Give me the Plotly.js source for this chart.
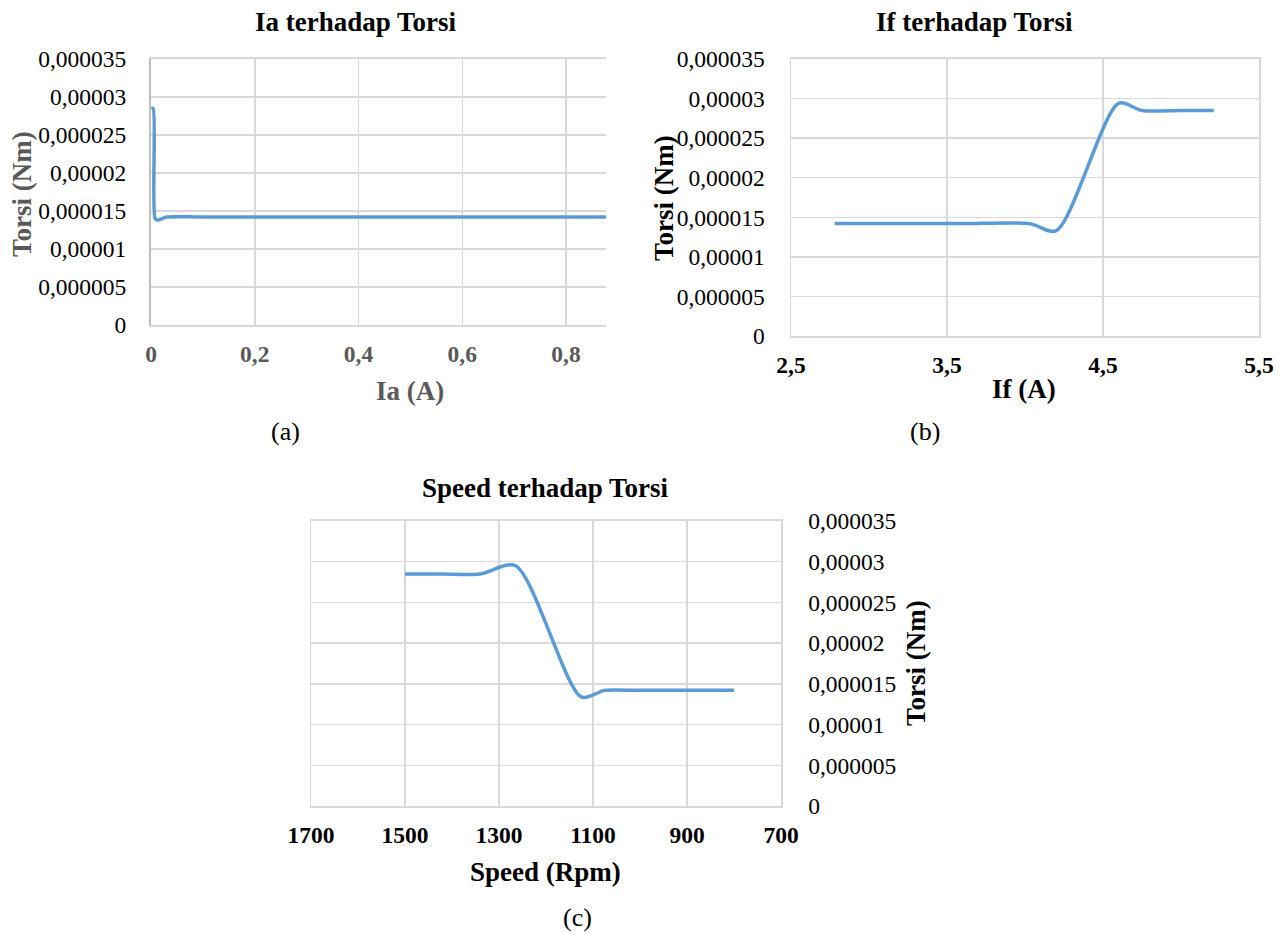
<!DOCTYPE html>
<html><head><meta charset="utf-8">
<script src="https://cdn.plot.ly/plotly-3.0.1.min.js"></script>
<style>html,body{margin:0;padding:0;background:#fff}</style>
</head><body><div id="chart" style="width:1284px;height:934px"></div>
<script>
// Data
const iaCurrent = [0.0005, 0.004, 0.008, 0.013, 0.03, 0.1, 0.3, 0.6, 0.9, 1.2];
const iaTorque  = [0.0000285, 0.0000285, 0.0000140, 0.0000138, 0.0000142, 0.0000142, 0.0000142, 0.0000142, 0.0000142, 0.0000142];

const ifCurrent = [2.78, 3.2, 3.6, 4.03, 4.2, 4.6, 4.75, 5.0, 5.21];
const ifTorque  = [0.0000142, 0.0000142, 0.0000142, 0.0000142, 0.0000133, 0.0000294, 0.0000285, 0.0000285, 0.0000285];

const speedRpm    = [1500, 1420, 1340, 1265, 1125, 1075, 1000, 900, 800];
const speedTorque = [0.0000285, 0.0000285, 0.0000285, 0.0000295, 0.0000134, 0.0000142, 0.0000142, 0.0000142, 0.0000142];

const yTickVals = [0, 0.000005, 0.00001, 0.000015, 0.00002, 0.000025, 0.00003, 0.000035];
const yTickText = ["0", "0,000005", "0,00001", "0,000015", "0,00002", "0,000025", "0,00003", "0,000035"];
const iaTickVals = [0, 0.2, 0.4, 0.6, 0.8];
const iaTickText = ["0", "0,2", "0,4", "0,6", "0,8"];
const ifTickVals = [2.5, 3.5, 4.5, 5.5];
const ifTickText = ["2,5", "3,5", "4,5", "5,5"];
const spTickVals = [1700, 1500, 1300, 1100, 900, 700];
const spTickText = ["1700", "1500", "1300", "1100", "900", "700"];

const FONT = "Liberation Serif, Times New Roman, serif";
const lineColor = "#5B9BD5";
const gridColor = "#d9d9d9";
const GRAY = "#595959";
const TICK = 23.5;
const TITLE = 27;

const trace = (x, y, xa, ya) => ({
  x: x, y: y, xaxis: xa, yaxis: ya, type: "scatter", mode: "lines",
  line: {color: lineColor, width: 3.5, shape: "spline", smoothing: 0.8},
  hoverinfo: "skip", showlegend: false
});

const data = [
  trace(iaCurrent, iaTorque, "x", "y"),
  trace(ifCurrent, ifTorque, "x2", "y2"),
  trace(speedRpm, speedTorque, "x3", "y3")
];

const yBase = (anchor, domain, side) => ({
  domain: domain, anchor: anchor, range: [0, 0.000035], side: side || "left",
  tickvals: yTickVals, ticktext: yTickText,
  tickfont: {family: FONT, size: TICK, color: "#000"},
  showgrid: true, gridcolor: gridColor, gridwidth: 1.5,
  zeroline: false, showline: true, linecolor: gridColor, linewidth: 1.5, mirror: true,
  ticks: "", ticklabelstandoff: 18, fixedrange: true
});
const xBase = (anchor, domain, range, tv, tt, color) => ({
  domain: domain, anchor: anchor, range: range, tickvals: tv, ticktext: tt,
  tickfont: {family: FONT, size: TICK, color: color, weight: "bold"},
  showgrid: true, gridcolor: gridColor, gridwidth: 1.5,
  zeroline: false, showline: true, linecolor: gridColor, linewidth: 2, mirror: true,
  ticks: "", ticklabelstandoff: 7, fixedrange: true
});

const ann = (text, x, y, size, color, angle) => ({
  text: text, x: x/1284, y: 1 - y/934, xref: "paper", yref: "paper",
  xanchor: "center", yanchor: "middle", showarrow: false, textangle: angle || 0,
  font: {family: FONT, size: size, color: color}
});

const layout = {
  width: 1284, height: 934, autosize: false,
  margin: {l: 0, r: 0, t: 0, b: 0},
  paper_bgcolor: "#fff", plot_bgcolor: "#fff",
  font: {family: FONT, color: "#000"},
  showlegend: false,
  xaxis:  xBase("y",  [151/1284, 606/1284], [0, 0.877], iaTickVals, iaTickText, GRAY),
  yaxis:  Object.assign(yBase("x",  [1-325/934, 1-59/934]), {linecolor: "#bfbfbf", linewidth: 2, mirror: false}),
  xaxis2: xBase("y2", [791/1284, 1259/1284], [2.5, 5.5], ifTickVals, ifTickText, "#000"),
  yaxis2: Object.assign(yBase("x2", [1-336/934, 1-59/934]), {ticklabelstandoff: 20}),
  xaxis3: xBase("y3", [311/1284, 781/1284], [1700, 700], spTickVals, spTickText, "#000"),
  yaxis3: Object.assign(yBase("x3", [1-806/934, 1-521/934], "right"), {ticklabelstandoff: 21}),
  annotations: [
    ann("<b>Ia terhadap Torsi</b>", 356, 22, TITLE, "#000"),
    ann("<b>If terhadap Torsi</b>", 974, 22, TITLE, "#000"),
    ann("<b>Speed terhadap Torsi</b>", 545, 488, TITLE, "#000"),
    ann("<b>Ia (A)</b>", 410, 391, TITLE, GRAY),
    ann("<b>If (A)</b>", 1024, 389, TITLE, "#000"),
    ann("<b>Speed (Rpm)</b>", 545, 872, TITLE, "#000"),
    ann("<b>Torsi (Nm)</b>", 22, 194, TITLE, GRAY, -90),
    ann("<b>Torsi (Nm)</b>", 664, 198, TITLE, "#000", -90),
    ann("<b>Torsi (Nm)</b>", 916, 663, TITLE, "#000", -90),
    ann("(a)", 285, 432, 26, "#000"),
    ann("(b)", 925, 432, 26, "#000"),
    ann("(c)", 577, 917, 26, "#000")
  ]
};

Plotly.newPlot("chart", data, layout, {staticPlot: true, displayModeBar: false});
</script></body></html>
